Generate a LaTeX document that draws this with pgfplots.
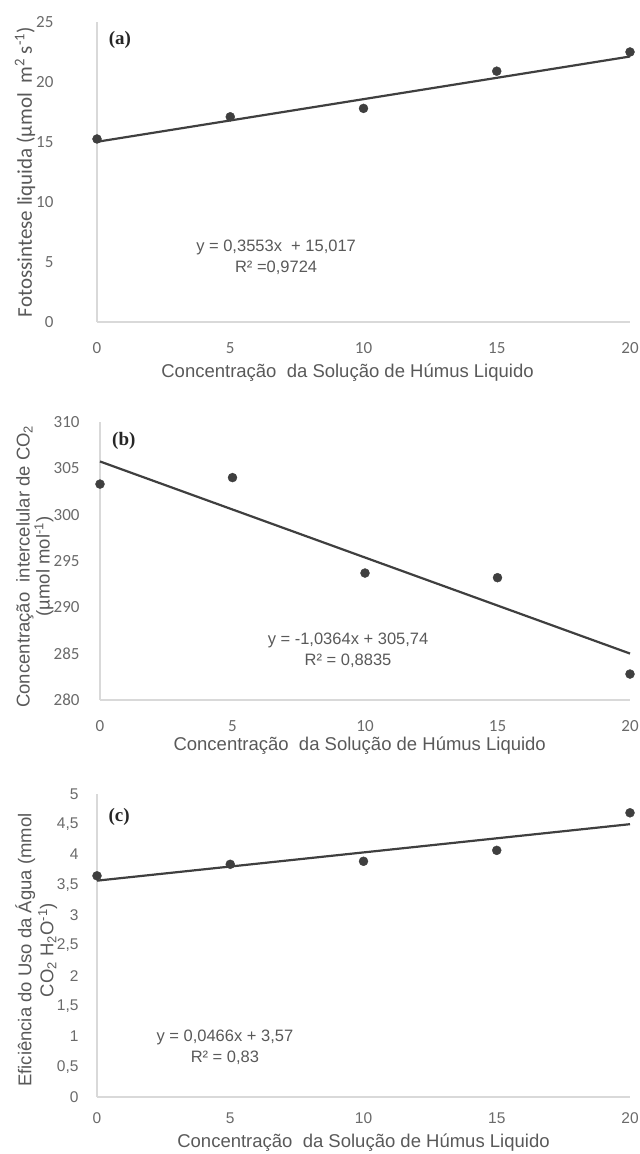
\documentclass[border=0pt]{standalone}
\usepackage{fontspec}
\setmainfont{Liberation Sans}
\newfontfamily\carlito{Carlito}
\newfontfamily\serifrm{Liberation Serif}
\usepackage{pgfplots}
\pgfplotsset{compat=1.18}

\definecolor{txt}{HTML}{595959}
\definecolor{tck}{HTML}{6A6A6A}
\definecolor{axl}{HTML}{D9D9D9}
\definecolor{pts}{HTML}{3F3F3F}

\pgfplotsset{
  panel/.style={
    scale only axis, clip=false,
    axis lines=left, axis line style={-, draw=axl, line width=1.2bp},
    major tick length=0pt,
    xmin=0, xmax=20,
    xtick={0,5,10,15,20}, xticklabels={0,5,10,15,20},
    xticklabel style={anchor=center, yshift=-26bp, text=tck},
    yticklabel style={anchor=east, text=tck},
    label style={font=\fontsize{18.5bp}{20bp}\selectfont, text=txt},
    xlabel={Concentração\ \ da Solução de Húmus Liquido},
  },
  dots/.style={only marks, mark=*, mark size=4.5bp, mark options={fill=pts, draw=pts}},
  trend/.style={no marks, draw=pts, line width=2.2bp},
}
\tikzset{
  eq/.style={font=\fontsize{16.5bp}{21bp}\selectfont, text=txt, align=center},
  tag/.style={font=\serifrm\bfseries\fontsize{19bp}{20bp}\selectfont, text=black!85},
}

\begin{document}
\begin{tikzpicture}
  \useasboundingbox (0,0) rectangle (640bp,1154bp);

  % (a) Fotossintese
  \begin{axis}[panel,
      at={(97bp,832bp)}, anchor=south west,
      width=533bp, height=300bp,
      ymin=0, ymax=25,
      ytick={0,5,10,15,20,25}, yticklabels={0,5,10,15,20,25},
      ticklabel style={font=\carlito\fontsize{17bp}{18bp}\selectfont},
      yticklabel style={xshift=-40bp},
      ylabel={Fotossintese liquida (µmol\ \ m\textsuperscript{2} s\textsuperscript{-1})},
      ylabel style={at={(axis description cs:-0.135,0.5)}, anchor=center,
        font=\carlito\fontsize{21bp}{22bp}\selectfont},
      xlabel style={at={(axis description cs:0.47,-0.17)}, anchor=center},
    ]
    \addplot[dots] coordinates {(0,15.25) (5,17.1) (10,17.8) (15,20.9) (20,22.5)};
    \addplot[trend] coordinates {(0,15.017) (20,22.123)};
    \node[eq] at (axis cs:6.72,5.4) {y = 0,3553x\ \ + 15,017\\R² =0,9724};
    \node[tag] at (axis cs:0.86,23.5) {(a)};
  \end{axis}

  % (b) CO2 intercelular
  \begin{axis}[panel,
      at={(100bp,454bp)}, anchor=south west,
      width=530bp, height=278bp,
      ymin=280, ymax=310,
      ytick={280,285,290,295,300,305,310},
      yticklabels={280,285,290,295,300,305,310},
      ticklabel style={font=\carlito\fontsize{17bp}{18bp}\selectfont},
      yticklabel style={xshift=-17bp},
      ylabel={Concentração\ \ intercelular de CO\textsubscript{2}\\(µmol mol\textsuperscript{-1})},
      ylabel style={at={(axis description cs:-0.123,0.48)}, anchor=center, align=center,
        font=\fontsize{18.5bp}{17bp}\selectfont},
      xlabel style={at={(axis description cs:0.49,-0.165)}, anchor=center},
    ]
    \addplot[dots] coordinates {(0,303.3) (5,304.0) (10,293.7) (15,293.2) (20,282.8)};
    \addplot[trend] coordinates {(0,305.74) (20,285.012)};
    \node[eq] at (axis cs:9.36,285.4) {y = -1,0364x + 305,74\\R² = 0,8835};
    \node[tag] at (axis cs:0.9,308.0) {(b)};
  \end{axis}

  % (c) Eficiencia do uso da agua
  \begin{axis}[panel,
      at={(97bp,57bp)}, anchor=south west,
      width=533bp, height=303bp,
      ymin=0, ymax=5,
      ytick={0,0.5,1,1.5,2,2.5,3,3.5,4,4.5,5},
      yticklabels={0,{0,5},1,{1,5},2,{2,5},3,{3,5},4,{4,5},5},
      ticklabel style={font=\fontsize{15.5bp}{17bp}\selectfont},
      xticklabel style={yshift=5bp},
      yticklabel style={xshift=-15bp},
      ylabel={Eficiência do Uso da Água (mmol\\CO\textsubscript{2} H\textsubscript{2}O\textsuperscript{-1})},
      ylabel style={at={(axis description cs:-0.114,0.485)}, anchor=center, align=center,
        font=\fontsize{18.5bp}{22bp}\selectfont},
      xlabel style={at={(axis description cs:0.5,-0.152)}, anchor=center},
    ]
    \addplot[dots] coordinates {(0,3.65) (5,3.84) (10,3.89) (15,4.07) (20,4.69)};
    \addplot[trend] coordinates {(0,3.57) (20,4.502)};
    \node[eq] at (axis cs:4.8,0.82) {y = 0,0466x + 3,57\\R² = 0,83};
    \node[tag] at (axis cs:0.83,4.62) {(c)};
  \end{axis}
\end{tikzpicture}
\end{document}
